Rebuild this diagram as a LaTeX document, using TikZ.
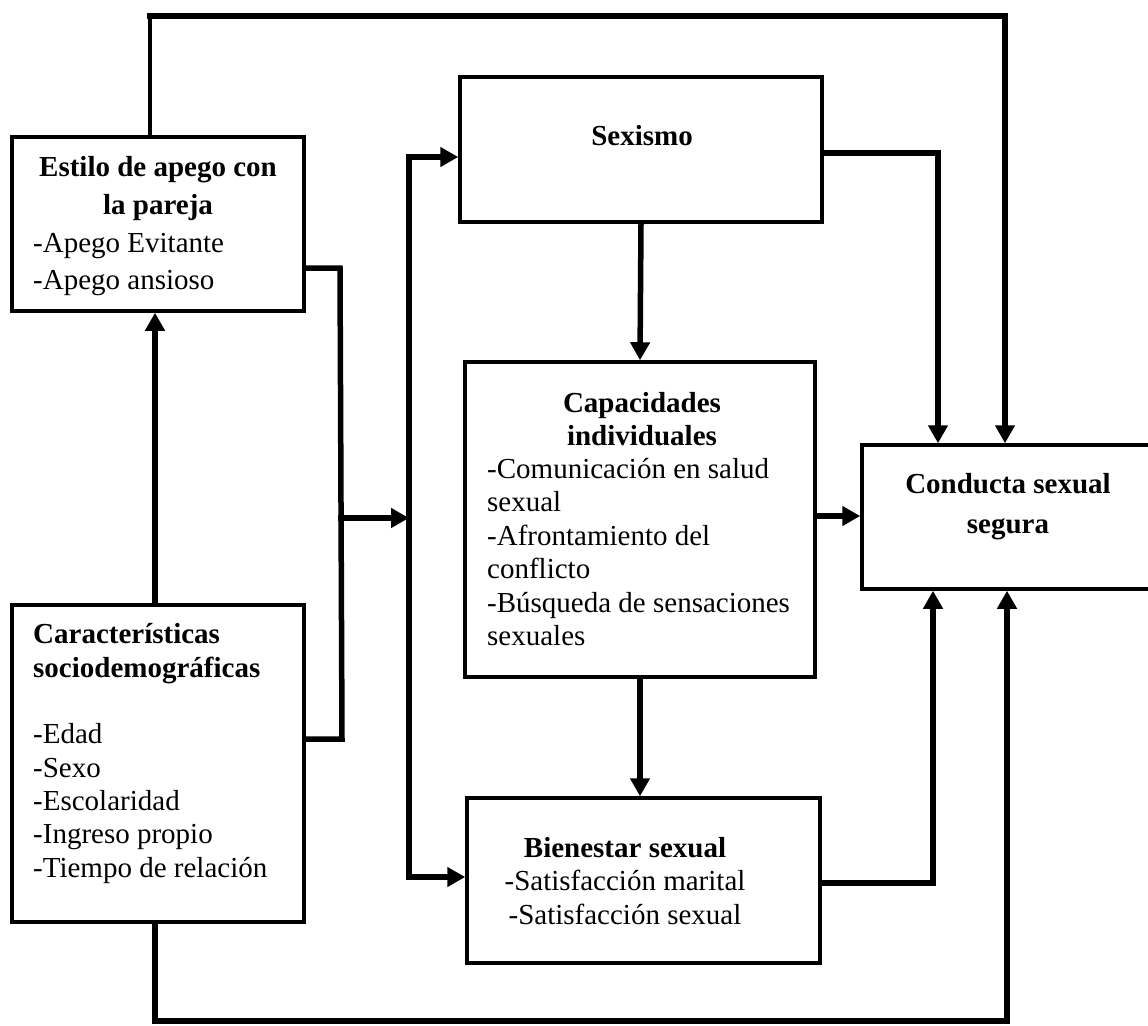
\documentclass[tikz,border=0pt]{standalone}
\usepackage{fontspec}
\setmainfont{Liberation Serif}
\usetikzlibrary{arrows.meta}
\begin{document}
\begin{tikzpicture}[x=1pt,y=-1pt,
  box/.style={draw, rectangle, line width=3.5pt, inner sep=0pt, fill=white},
  txt/.style={inner sep=0pt, font=\fontsize{29pt}{34pt}\selectfont},
  btxt/.style={inner sep=0pt, font=\fontsize{29pt}{34pt}\selectfont\bfseries},
  link/.style={line width=5.5pt, line cap=rect, line join=miter},
  heavy/.style={line width=6.5pt, line cap=rect},
  slim/.style={line width=3.5pt},
  tip/.style={-{Triangle[length=18pt,width=19pt]}}]
\useasboundingbox (0,0) rectangle (1148,1025);
\fill[white] (0,0) rectangle (1148,1025);
\clip (0,0) rectangle (1148,1025);

% boxes
\node[box, minimum width=292pt, minimum height=174pt] (apego) at (158,224) {};
\node[box, minimum width=292pt, minimum height=317pt] (caract) at (158,763.5) {};
\node[box, minimum width=362pt, minimum height=145pt] (sexismo) at (641,149.5) {};
\node[box, minimum width=350pt, minimum height=315pt] (capac) at (640,519.5) {};
\node[box, minimum width=353pt, minimum height=165pt] (bienestar) at (643.5,880.5) {};
\node[box, minimum width=308pt, minimum height=144pt] (conducta) at (1016,517) {};

% texts
\node[btxt, anchor=base] (apego-h1) at (158,176) {Estilo de apego con};
\node[btxt, anchor=base] (apego-h2) at (158,214) {la pareja};
\node[txt, anchor=base west] (apego-l1) at (33,252) {-Apego Evitante};
\node[txt, anchor=base west] (apego-l2) at (33,289) {-Apego ansioso};

\node[btxt, anchor=base west] (caract-h1) at (33,643) {Características};
\node[btxt, anchor=base west] (caract-h2) at (33,677) {sociodemográficas};
\node[txt, anchor=base west] (caract-l1) at (33,743) {-Edad};
\node[txt, anchor=base west] (caract-l2) at (33,777) {-Sexo};
\node[txt, anchor=base west] (caract-l3) at (33,810) {-Escolaridad};
\node[txt, anchor=base west] (caract-l4) at (33,843) {-Ingreso propio};
\node[txt, anchor=base west] (caract-l5) at (33,877) {-Tiempo de relación};

\node[btxt, anchor=base] (sexismo-h) at (642,145) {Sexismo};

\node[btxt, anchor=base] (capac-h1) at (642,412) {Capacidades};
\node[btxt, anchor=base] (capac-h2) at (642,445) {individuales};
\node[txt, anchor=base west] (capac-l1) at (487,478) {-Comunicación en salud};
\node[txt, anchor=base west] (capac-l2) at (487,511.5) {sexual};
\node[txt, anchor=base west] (capac-l3) at (487,545) {-Afrontamiento del};
\node[txt, anchor=base west] (capac-l4) at (487,578.5) {conflicto};
\node[txt, anchor=base west] (capac-l5) at (487,612) {-Búsqueda de sensaciones};
\node[txt, anchor=base west] (capac-l6) at (487,645.5) {sexuales};

\node[btxt, anchor=base] (bien-h) at (625,857) {Bienestar sexual};
\node[txt, anchor=base] (bien-l1) at (625,890) {-Satisfacción marital};
\node[txt, anchor=base] (bien-l2) at (625,924) {-Satisfacción sexual};

\node[btxt, anchor=base] (cond-h1) at (1008,493) {Conducta sexual};
\node[btxt, anchor=base] (cond-h2) at (1008,533) {segura};

% routing points
\coordinate (topL) at (150,16);
\coordinate (topR) at (1005,16);
\coordinate (brT) at (340,268);
\coordinate (brM) at (341,518);
\coordinate (brB) at (342,739);
\coordinate (spT) at (409,157);
\coordinate (spB) at (409,877);
\coordinate (sxR) at (938,153);
\coordinate (cpR) at (0,516);
\coordinate (bnR) at (933,883);
\coordinate (btL) at (155,1021);
\coordinate (btR) at (1007,1021);

% connectors
\draw[link, tip] (caract.north -| btL) -- (apego.south -| btL);
\draw[slim] (apego.north -| topL) -- (topL);
\draw[heavy] (topL) -- (topR);
\draw[link, tip] (topR) -- (topR |- conducta.north);
\draw[link] (apego.east |- brT) -- (brT) -- (brB) -- (caract.east |- brB);
\draw[link, tip] (brM) -- (spT |- brM);
\draw[link, tip] (spB) -- (spT) -- (sexismo.west |- spT);
\draw[link, tip] (spB) -- (bienestar.west |- spB);
\draw[link, tip] (sexismo.south) -- (capac.north);
\draw[link, tip] (sexismo.east |- sxR) -| (sxR |- conducta.north);
\draw[link, tip] (capac.east |- cpR) -- (conducta.west |- cpR);
\draw[link, tip] (capac.south) -- (capac.south |- bienestar.north);
\draw[link, tip] (bienestar.east |- bnR) -| (bnR |- conducta.south);
\draw[link, tip] (caract.south -| btL) -- (btL) -- (btR) -- (btR |- conducta.south);
\end{tikzpicture}
\end{document}
